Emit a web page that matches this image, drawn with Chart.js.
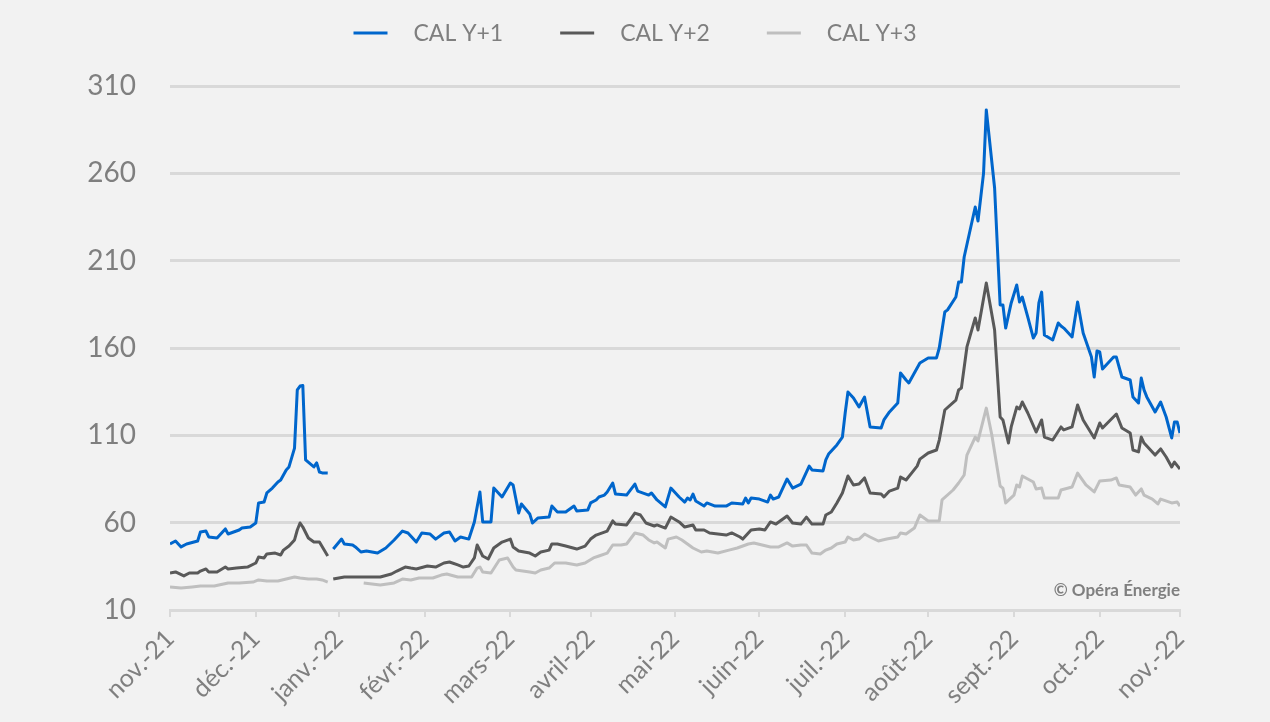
<!DOCTYPE html>
<html lang="fr">
  <head>
    <meta charset="UTF-8" />
    <title>CAL Y+1 / Y+2 / Y+3</title>
    <script src="https://cdn.jsdelivr.net/npm/chart.js"></script>
    <style>
      html,
      body {
        margin: 0;
        padding: 0;
        background-color: #f2f2f2;
      }
      canvas {
        display: block;
      }
    </style>
  </head>
  <body>
    <canvas id="priceChart" width="1270" height="722"></canvas>

    <script>
      // x = jours depuis le 1er nov. 2021, y = prix
      const seriesNames = ["CAL Y+1", "CAL Y+2", "CAL Y+3"];

      const tickDays = [0, 31, 61, 92, 123, 152, 182.5, 213, 244, 274, 305, 336, 365];
      const tickLabels = [
        "nov.-21", "déc.-21", "janv.-22", "févr.-22", "mars-22", "avril-22", "mai-22",
        "juin-22", "juil.-22", "août-22", "sept.-22", "oct.-22", "nov.-22",
      ];

      const calY1 = [
        [0, 47.8], [2, 49.5], [4, 46.1], [6, 47.8], [10, 49.5], [11, 54.7], [13, 55.2], [14, 51.8],
        [17, 51.2], [19, 54.7], [20, 56.4], [21, 53.5], [25, 55.8], [26, 56.9], [29, 57.5], [31, 59.8],
        [32, 71.3], [34, 71.8], [35, 77], [37, 79.8], [39, 83.3], [40, 84.4], [42, 90.2], [43, 91.9],
        [45, 102.7], [46, 136], [47, 138.2], [48, 138.5], [49, 95.9], [52, 91.9], [53, 94.2], [54, 89],
        [55, 88.5], [57, 88.4], [58, null],
        [59, 44.9], [62, 50.6], [63, 47.8], [66, 47.2], [67, 46.1], [69, 43.2], [71, 43.8], [75, 42.6],
        [78, 45.5], [81, 50.1], [84, 55.2], [86, 54.1], [89, 48.9], [91, 54.1], [94, 53.5], [96, 50.6],
        [99, 54.1], [101, 54.7], [103, 49.5], [105, 51.8], [108, 50.6], [110, 60.4], [112, 77.6],
        [113, 60.4], [116, 60.4], [117, 79.8], [120, 74.7], [123, 82.7], [124, 81.6], [126, 65.5],
        [127, 70.7], [130, 65], [131, 59.8], [133, 62.7], [137, 63.2], [138, 69.5], [140, 66.1],
        [143, 66.1], [146, 69.5], [147, 66.7], [151, 67.3], [152, 71.3], [154, 73], [155, 74.7],
        [157, 75.8], [158, 77.6], [160, 82.7], [161, 76.4], [165, 75.8], [168, 82.1], [169, 78.1],
        [173, 75.8], [174, 77], [176, 73], [179, 69], [181, 79.8], [184, 74.7], [186, 71.8], [187, 74.1],
        [188, 73], [189, 76.4], [190, 72.4], [193, 69.5], [194, 71.3], [197, 69.5], [201, 69.5],
        [203, 71.3], [207, 70.7], [208, 74.1], [209, 71.3], [210, 74.1], [213, 73.5], [216, 71.8],
        [217, 75.8], [218, 73.5], [220, 74.7], [222, 81.6], [223, 85], [225, 79.8], [228, 82.1],
        [231, 92.4], [232, 90.2], [236, 89.6], [237, 95.9], [238, 99.3], [241, 104.5], [243, 109],
        [244, 122.8], [245, 134.8], [247, 131.4], [249, 126.2], [251, 131.9], [253, 114.8], [257, 114.2],
        [258, 118.8], [260, 123.4], [263, 128.5], [264, 145.7], [266, 141.7], [267, 140], [271, 151.4],
        [274, 154.3], [277, 154.3], [278, 160], [280, 180.6], [281, 181.8], [284, 189.2], [285, 197.8],
        [286, 197.8], [287, 212.1], [291, 240.7], [292, 232.7], [294, 260], [295, 296.3], [298, 251.6],
        [300, 184.6], [301, 184.6], [302, 171.4], [304, 185.8], [306, 196.1], [307, 186.3], [308, 189.2],
        [310, 177.7], [312, 165.7], [313, 168.6], [314, 185.8], [315, 192], [316, 167.4], [319, 164.6],
        [321, 174.3], [322, 172.6], [323, 171.4], [326, 166.3], [328, 186.3], [330, 168.6], [333, 154.8],
        [334, 143.4], [335, 158.3], [336, 157.7], [337, 148], [341, 154.8], [342, 154.8], [344, 143.4],
        [347, 141.7], [348, 132], [350, 128.5], [351, 142.8], [352, 136], [353, 132], [356, 123.4],
        [358, 129.1], [360, 120.5], [362, 108.5], [363, 117.6], [364, 117.6], [365, 111.3],
      ];

      const calY2 = [
        [0, 31.2], [2, 31.8], [5, 29.5], [7, 31.2], [10, 31.2], [11, 32.3], [13, 33.5], [14, 31.8],
        [17, 31.8], [20, 34.6], [21, 33.5], [24, 34], [28, 34.6], [31, 36.9], [32, 40.3], [34, 39.8],
        [35, 42.1], [38, 42.6], [40, 41.5], [41, 44.3], [43, 46.6], [45, 50.1], [46, 55.8], [47, 59.8],
        [48, 57.5], [50, 51.2], [52, 48.9], [54, 48.9], [57, 40.9], [58, null],
        [59, 27.7], [63, 28.9], [66, 28.9], [76, 28.9], [80, 30.6], [82, 32.3], [85, 34.6], [87, 34],
        [89, 33.5], [93, 35.2], [96, 34.6], [99, 36.9], [101, 37.5], [104, 35.8], [106, 34.6], [108, 35.2],
        [110, 39.8], [111, 47.2], [113, 40.9], [115, 39.2], [117, 45.5], [120, 48.9], [123, 50.6],
        [124, 46.1], [126, 43.8], [130, 42.6], [132, 40.9], [134, 43.2], [137, 44.3], [138, 47.8],
        [140, 47.8], [143, 46.6], [147, 44.9], [150, 46.6], [152, 50.6], [154, 52.9], [158, 55.2],
        [160, 61], [161, 59.2], [165, 58.7], [168, 65.5], [170, 64.4], [172, 59.8], [175, 58.1],
        [176, 58.7], [179, 56.9], [181, 63.2], [184, 60.4], [186, 57.5], [189, 58.7], [190, 55.8],
        [193, 55.8], [195, 54.1], [198, 53.5], [201, 52.9], [203, 54.1], [206, 51.8], [207, 50.6],
        [209, 54.1], [210, 55.8], [213, 56.4], [215, 55.8], [217, 60.4], [219, 59.2], [223, 63.8],
        [225, 59.8], [228, 59.2], [230, 63.2], [232, 59.2], [236, 59.2], [237, 64.4], [239, 66.1],
        [241, 71.3], [243, 77], [245, 86.7], [247, 81.6], [249, 82.1], [251, 85.6], [253, 77],
        [257, 76.4], [258, 74.7], [260, 78.1], [263, 79.8], [264, 86.1], [266, 84.4], [268, 88.4],
        [270, 92.4], [271, 96.4], [274, 99.9], [277, 101.6], [278, 107.3], [280, 124.5], [284, 130.2],
        [285, 136], [286, 137.1], [288, 160.6], [291, 177.2], [292, 170.3], [295, 197.2], [298, 170.3],
        [300, 120.5], [301, 118.8], [303, 105.6], [304, 114.8], [306, 126.2], [307, 125.1], [308, 129.1],
        [310, 122.8], [313, 111.9], [315, 118.8], [316, 109], [319, 107.3], [322, 114.8], [323, 113.1],
        [326, 114.8], [328, 127.4], [330, 118.8], [334, 108.5], [336, 117.1], [337, 114.2], [342, 122.2],
        [344, 114.2], [347, 111.3], [348, 101.6], [350, 100.5], [351, 109], [352, 105.6], [356, 98.7],
        [358, 102.2], [360, 97.6], [362, 91.9], [363, 94.7], [365, 90.7],
      ];

      const calY3 = [
        [0, 23.2], [4, 22.6], [8, 23.2], [11, 23.7], [16, 23.7], [21, 25.5], [25, 25.5], [30, 26],
        [32, 27.2], [35, 26.6], [39, 26.6], [42, 27.7], [45, 28.9], [47, 28.3], [50, 27.7], [53, 27.7],
        [55, 27.2], [57, 26], [58, null],
        [70, 25.5], [76, 24.3], [81, 25.5], [84, 27.7], [87, 27.2], [90, 28.3], [95, 28.3], [98, 30],
        [100, 30.6], [104, 28.9], [107, 28.9], [109, 28.9], [111, 34], [112, 34.6], [113, 31.8],
        [116, 31.2], [119, 38.6], [122, 39.8], [124, 34.6], [125, 32.9], [130, 31.8], [132, 31.2],
        [134, 32.9], [137, 34], [139, 36.9], [143, 36.9], [147, 35.8], [150, 36.9], [153, 39.8],
        [155, 40.9], [158, 42.6], [160, 47.2], [163, 47.2], [165, 47.8], [168, 54.1], [171, 52.9],
        [173, 50.1], [175, 48.4], [176, 48.9], [179, 45.5], [180, 50.6], [183, 51.8], [185, 50.1],
        [189, 45.5], [192, 43.2], [194, 43.8], [198, 42.6], [202, 44.3], [205, 45.5], [209, 47.8],
        [211, 48.4], [214, 47.2], [217, 46.1], [220, 46.1], [223, 48.4], [225, 46.6], [228, 47.2],
        [230, 47.2], [232, 42.6], [235, 42.1], [237, 44.3], [239, 45.5], [241, 47.8], [244, 48.9],
        [245, 51.8], [247, 50.1], [249, 50.6], [251, 53.5], [253, 51.8], [256, 49.5], [259, 50.6],
        [263, 51.8], [264, 54.1], [266, 53.5], [269, 56.9], [271, 64.4], [274, 61], [278, 61], [279, 73],
        [283, 78.7], [285, 82.7], [287, 87.3], [288, 98.7], [291, 109], [292, 106.8], [295, 125.6],
        [297, 110.2], [300, 81], [301, 79.8], [302, 71.3], [305, 75.8], [306, 81.6], [307, 80.4],
        [308, 86.7], [312, 83.3], [313, 79.3], [315, 79.8], [316, 74.1], [321, 74.1], [322, 78.7],
        [326, 80.4], [328, 88.4], [331, 81.6], [334, 77.6], [336, 83.9], [340, 84.4], [342, 85.6],
        [343, 81.6], [347, 80.4], [349, 75.8], [351, 79.3], [352, 75.8], [355, 73.5], [357, 70.7],
        [358, 73.5], [362, 71.3], [364, 71.8], [365, 69.5],
      ];

      const lineColors = ["#0066cc", "#595959", "#bfbfbf"];
      const fontFamily = "Lato, 'Open Sans', sans-serif";
      const textGray = "#7f7f7f";

      function toPoints(series) {
        return series.map((p) => ({ x: p[0], y: p[1] }));
      }

      // legende dessinee a la main (trait + espace large comme sur l'original)
      const legendPlugin = {
        id: "lineLegend",
        afterDraw(chart) {
          const ctx = chart.ctx;
          const lineLen = 34;
          const gap = 26;
          const spacing = 57;
          ctx.save();
          ctx.font = "23px " + fontFamily;
          ctx.textBaseline = "middle";
          const widths = chart.data.datasets.map((ds) => ctx.measureText(ds.label).width);
          let total = widths.reduce((a, w) => a + lineLen + gap + w, 0) + spacing * (widths.length - 1);
          let x = chart.width / 2 - total / 2;
          const y = 33;
          chart.data.datasets.forEach((ds, i) => {
            ctx.strokeStyle = ds.borderColor;
            ctx.lineWidth = 3;
            ctx.beginPath();
            ctx.moveTo(x, y);
            ctx.lineTo(x + lineLen, y);
            ctx.stroke();
            ctx.fillStyle = textGray;
            ctx.textAlign = "left";
            ctx.fillText(ds.label, x + lineLen + gap, y + 1);
            x += lineLen + gap + widths[i] + spacing;
          });
          ctx.restore();
        },
      };

      const creditPlugin = {
        id: "credit",
        afterDraw(chart) {
          const ctx = chart.ctx;
          ctx.save();
          ctx.font = "bold 17px " + fontFamily;
          ctx.fillStyle = textGray;
          ctx.textAlign = "right";
          ctx.textBaseline = "middle";
          ctx.fillText("© Opéra Énergie", chart.chartArea.right, 591);
          ctx.restore();
        },
      };

      document.addEventListener("DOMContentLoaded", function () {
        const ctx = document.getElementById("priceChart").getContext("2d");

        const datasets = [calY1, calY2, calY3].map((series, i) => ({
          label: seriesNames[i],
          data: toPoints(series),
          borderColor: lineColors[i],
          backgroundColor: lineColors[i],
          borderWidth: 3,
          pointRadius: 0,
          tension: 0,
          spanGaps: false,
          borderJoinStyle: "round",
        }));

        new Chart(ctx, {
          type: "line",
          data: { datasets: datasets },
          options: {
            responsive: false,
            animation: false,
            devicePixelRatio: 1,
            layout: { padding: { top: 86, right: 90, left: 0, bottom: 0 } },
            plugins: {
              legend: { display: false },
              tooltip: { enabled: false },
            },
            scales: {
              x: {
                type: "linear",
                min: 0,
                max: 365,
                afterBuildTicks: (scale) => {
                  scale.ticks = tickDays.map((d) => ({ value: d }));
                },
                afterFit: (scale) => {
                  scale.height = 112;
                },
                ticks: {
                  autoSkip: false,
                  minRotation: 45,
                  maxRotation: 45,
                  padding: 7,
                  color: textGray,
                  font: { family: fontFamily, size: 25 },
                  callback: (value) => tickLabels[tickDays.indexOf(value)],
                },
                grid: {
                  drawOnChartArea: false,
                  drawTicks: true,
                  tickLength: 7,
                  color: "#d9d9d9",
                  lineWidth: 2,
                },
                border: { color: "#d9d9d9", width: 3 },
              },
              y: {
                min: 10,
                max: 310,
                afterFit: (scale) => {
                  scale.width = 170;
                },
                ticks: {
                  stepSize: 50,
                  padding: 34,
                  color: textGray,
                  font: { family: fontFamily, size: 28 },
                },
                grid: {
                  color: "#d9d9d9",
                  lineWidth: 3,
                  drawTicks: false,
                },
                border: { display: false },
              },
            },
          },
          plugins: [legendPlugin, creditPlugin],
        });
      });
    </script>
  </body>
</html>
